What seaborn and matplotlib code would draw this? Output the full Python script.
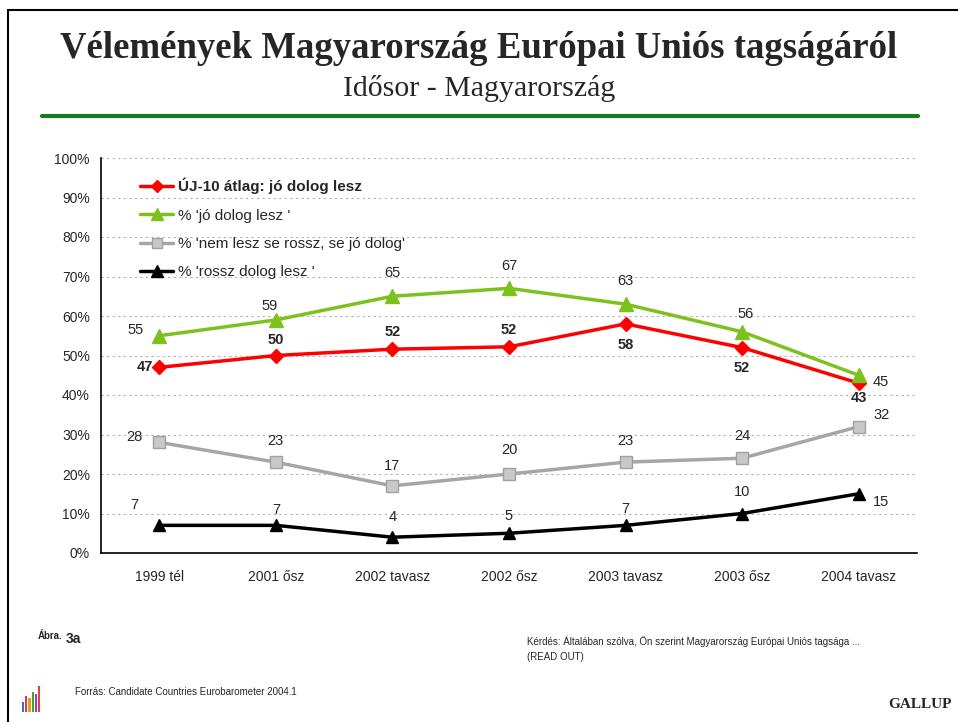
import pandas as pd
import seaborn as sns
import matplotlib.pyplot as plt
import numpy as np
from matplotlib.lines import Line2D
from matplotlib.patches import Rectangle

# adatok
periods = ['1999 tél', '2001 ősz', '2002 tavasz', '2002 ősz', '2003 tavasz', '2003 ősz', '2004 tavasz']
uj10_avg = [47, 50, 51.6, 52.2, 58, 52, 43]
jo_dolog = [55, 59, 65, 67, 63, 56, 45]
semleges = [28, 23, 17, 20, 23, 24, 32]
rossz_dolog = [7, 7, 4, 5, 7, 10, 15]
series_names = ['ÚJ-10 átlag: jó dolog lesz', "% 'jó dolog lesz '",
                "% 'nem lesz se rossz, se jó dolog'", "% 'rossz dolog lesz '"]

sns.set_style('white')
plt.rcParams['font.family'] = ['Liberation Sans', 'DejaVu Sans']

fig = plt.figure(figsize=(9.58, 7.22), dpi=100)
ax = fig.add_axes([101 / 958, 1 - 553 / 722, 816 / 958, 395 / 722])

x = np.arange(len(periods))
styles = [
    dict(color='#ff0000', marker='D', ms=7, mfc='#ff0000', mec='#ff0000'),
    dict(color='#7dc11f', marker='^', ms=10, mfc='#7dc11f', mec='#7dc11f'),
    dict(color='#a6a6a6', marker='s', ms=8, mfc='#c8c8c8', mec='#a0a0a0'),
    dict(color='#000000', marker='^', ms=9, mfc='#000000', mec='#000000'),
]
all_series = [uj10_avg, jo_dolog, semleges, rossz_dolog]

for vals, st, name in zip(all_series, styles, series_names):
    sns.lineplot(x=x, y=vals, ax=ax, color=st['color'], lw=2.5, label=name,
                 marker=st['marker'], markersize=st['ms'],
                 markerfacecolor=st['mfc'], markeredgecolor=st['mec'],
                 markeredgewidth=1, zorder=3)

# címkék eltolása (pixel)
offsets = [
    [(-14, 0), (0, 16), (0, 17), (0, 17), (0, -21), (0, -20), (0, -15)],
    [(-24, 6), (-6, 14), (0, 23), (0, 22), (0, 23), (3, 18), (22, -7)],
    [(-25, 5), (0, 21), (0, 20), (0, 24), (0, 21), (0, 22), (23, 12)],
    [(-25, 20), (0, 15), (0, 20), (0, 17), (0, 16), (0, 22), (22, -8)],
]
for k, (vals, offs) in enumerate(zip(all_series, offsets)):
    for xi, v, off in zip(x, vals, offs):
        ax.annotate(f'{round(v)}', (xi, v), xytext=off, textcoords='offset pixels',
                    ha='center', va='center', fontsize=10.5,
                    fontweight='bold' if k == 0 else 'normal', zorder=4)

ax.set_xlim(-0.5, len(periods) - 0.5)
ax.set_ylim(0, 100)
ax.set_yticks(np.arange(0, 101, 10))
ax.set_yticklabels([f'{t}%' for t in range(0, 101, 10)], fontsize=10)
ax.set_xticks(x)
ax.set_xticklabels(periods, fontsize=10)
ax.set_xticks(np.arange(-0.5, len(periods), 1), minor=True)
ax.tick_params(axis='x', which='major', length=0, pad=12)
ax.tick_params(axis='x', which='minor', length=6, width=1, direction='out', color='black')
ax.tick_params(axis='y', length=0, pad=8)
ax.yaxis.grid(True, color='#b0b0b0', linestyle=(0, (2, 3)), lw=0.8)
for s in ['top', 'right']:
    ax.spines[s].set_visible(False)
for s in ['left', 'bottom']:
    ax.spines[s].set_color('black')
    ax.spines[s].set_linewidth(1.2)
ax.set_xlabel('')
ax.set_ylabel('')

handles = [Line2D([], [], color=st['color'], lw=2.5, marker=st['marker'], ms=st['ms'] * 0.9,
                  mfc=st['mfc'], mec=st['mec']) for st in styles]
leg = ax.legend(handles, series_names, loc='upper left', bbox_to_anchor=(0.04, 0.965),
                frameon=False, fontsize=11, handlelength=2.2, handletextpad=0.3,
                labelspacing=0.93, borderaxespad=0)
leg.get_texts()[0].set_fontweight('bold')

# fejléc
fig.text(0.5, 1 - 49 / 722, 'Vélemények Magyarország Európai Uniós tagságáról',
         ha='center', va='center', fontsize=26.5, fontweight='bold', family='Liberation Serif')
fig.text(0.5, 1 - 88 / 722, 'Idősor - Magyarország', ha='center', va='center',
         fontsize=21.5, family='Liberation Serif')
fig.add_artist(Line2D([42 / 958, 918 / 958], [1 - 116 / 722] * 2, color='#1a7a1a', lw=3))

# keret
fig.add_artist(Line2D([8 / 958, 8 / 958], [0, 1 - 10 / 722], color='black', lw=1.5))
fig.add_artist(Line2D([8 / 958, 1], [1 - 10 / 722] * 2, color='black', lw=1.5))

# lábléc
fig.text(38 / 958, 1 - 636 / 722, 'Ábra.', fontsize=7, fontweight='bold', va='center')
fig.text(66 / 958, 1 - 639 / 722, '3a', fontsize=10, fontweight='bold', va='center')
fig.text(527 / 958, 1 - 641 / 722,
         'Kérdés: Általában szólva, Ön szerint Magyarország Európai Uniós tagsága ...',
         fontsize=7, va='center')
fig.text(527 / 958, 1 - 657 / 722, '(READ OUT)', fontsize=7, va='center')
fig.text(75 / 958, 1 - 692 / 722, 'Forrás: Candidate Countries Eurobarometer 2004.1',
         fontsize=7, va='center')
fig.text(952 / 958, 1 - 705 / 722, 'GALLUP', fontsize=11, fontweight='bold',
         family='Liberation Serif', ha='right', va='center')

# kis logó
logo_colors = ['#3b6bd6', '#d84040', '#e0a020', '#40a040', '#a040c0', '#e04040']
logo_heights = [10, 16, 14, 20, 18, 26]
for i, (c, h) in enumerate(zip(logo_colors, logo_heights)):
    fig.add_artist(Rectangle(((22 + i * 3.2) / 958, 1 - 712 / 722), 2.2 / 958, h / 722,
                             color=c, lw=0))

fig.savefig('out.png', dpi=100)
